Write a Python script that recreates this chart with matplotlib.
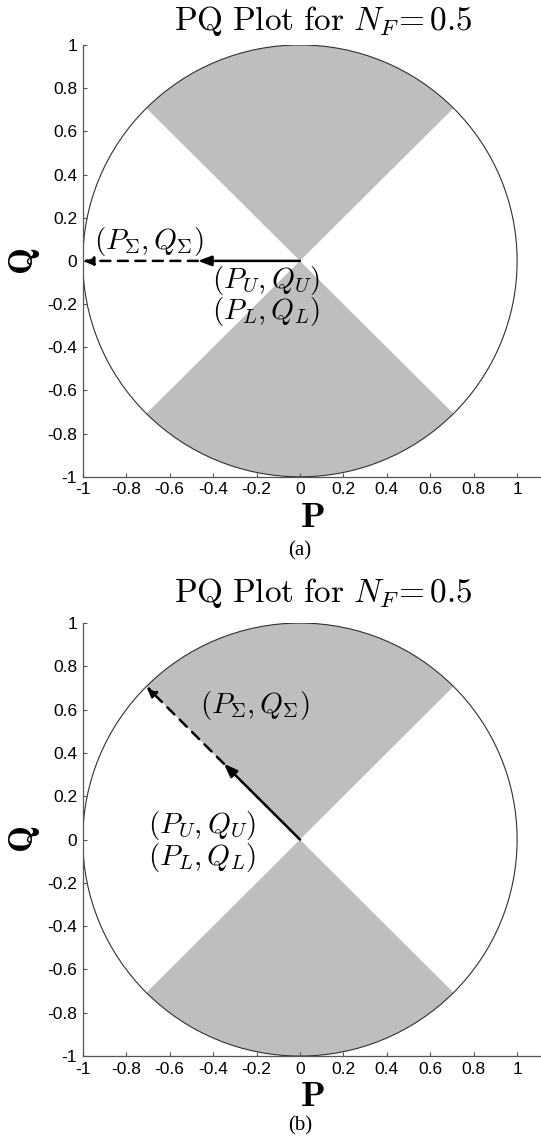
import numpy as np
import matplotlib
matplotlib.use("Agg")
import matplotlib.pyplot as plt
from matplotlib.patches import Wedge, Circle

plt.rcParams['mathtext.fontset'] = 'cm'
plt.rcParams['font.family'] = ['Liberation Sans', 'DejaVu Sans']

# feasible (shaded) sectors of the unit circle, degrees
sectors = [(45, 135), (225, 315)]

ticks = [-1, -0.8, -0.6, -0.4, -0.2, 0, 0.2, 0.4, 0.6, 0.8, 1]
tick_labels = ['-1', '-0.8', '-0.6', '-0.4', '-0.2', '0', '0.2', '0.4', '0.6', '0.8', '1']

# (a) upper/lower powers and their sum, along the P axis
a_unit = (-0.47, 0.0)
a_sum = (-1.0, 0.0)
# (b) same along the 135 degree boundary
b_unit = (-0.35, 0.35)
b_sum = (-0.707, 0.707)

sum_label = r'$(P_{\Sigma},Q_{\Sigma})$'
ul_labels = [r'$(P_U,Q_U)$', r'$(P_L,Q_L)$']

fig = plt.figure(figsize=(5.41, 11.38), dpi=100)
ax_a = fig.add_axes([0.153, 0.581, 0.847, 0.3795])
ax_b = fig.add_axes([0.153, 0.072, 0.847, 0.3805])


def draw_panel(ax, unit, total, title_y):
    for t1, t2 in sectors:
        ax.add_patch(Wedge((0, 0), 1, t1, t2, facecolor='#bebebe', edgecolor='none'))
    ax.add_patch(Circle((0, 0), 1, fill=False, edgecolor='#303030', lw=0.8))
    # solid arrow for U/L, dashed continuation for the sum
    ax.annotate('', xy=unit, xytext=(0, 0),
                arrowprops=dict(arrowstyle='-|>,head_length=0.8,head_width=0.3',
                                color='black', lw=1.8, shrinkA=0, shrinkB=0))
    ax.annotate('', xy=total, xytext=unit,
                arrowprops=dict(arrowstyle='-|>,head_length=0.6,head_width=0.25',
                                color='black', lw=1.8, ls=(0, (4, 3)),
                                shrinkA=0, shrinkB=0))
    ax.set_xlim(-1, 1.11)
    ax.set_ylim(-1, 1)
    ax.set_xticks(ticks)
    ax.set_xticklabels(tick_labels)
    ax.set_yticks(ticks)
    ax.set_yticklabels(tick_labels)
    ax.tick_params(direction='in', length=3, labelsize=12.5, pad=4, color='#555555')
    for s in ['top', 'right']:
        ax.spines[s].set_visible(False)
    for s in ['left', 'bottom']:
        ax.spines[s].set_color('#555555')
        ax.spines[s].set_linewidth(0.9)
    ax.set_xlabel(r'$\mathbf{P}$', fontsize=26, labelpad=2)
    ax.set_ylabel(r'$\mathbf{Q}$', fontsize=26, labelpad=4)
    ax.text(0.106, title_y, r'$\mathrm{PQ\ Plot\ for\ }N_F\!=0.5$', fontsize=24,
            ha='center', va='center')


draw_panel(ax_a, a_unit, a_sum, 1.11)
ax_a.text(-0.95, 0.088, sum_label, fontsize=21, ha='left', va='center')
ax_a.text(-0.405, -0.09, ul_labels[0], fontsize=21, ha='left', va='center')
ax_a.text(-0.405, -0.235, ul_labels[1], fontsize=21, ha='left', va='center')
fig.text(0.5545, 1 - 551 / 1138, '(a)', family='Liberation Serif', fontsize=15,
         ha='center', va='center')

draw_panel(ax_b, b_unit, b_sum, 1.14)
ax_b.text(-0.46, 0.62, sum_label, fontsize=21, ha='left', va='center')
ax_b.text(-0.70, 0.065, ul_labels[0], fontsize=21, ha='left', va='center')
ax_b.text(-0.70, -0.085, ul_labels[1], fontsize=21, ha='left', va='center')
fig.text(0.5545, 1 - 1126 / 1138, '(b)', family='Liberation Serif', fontsize=15,
         ha='center', va='center')

fig.savefig('out.png', dpi=100)
